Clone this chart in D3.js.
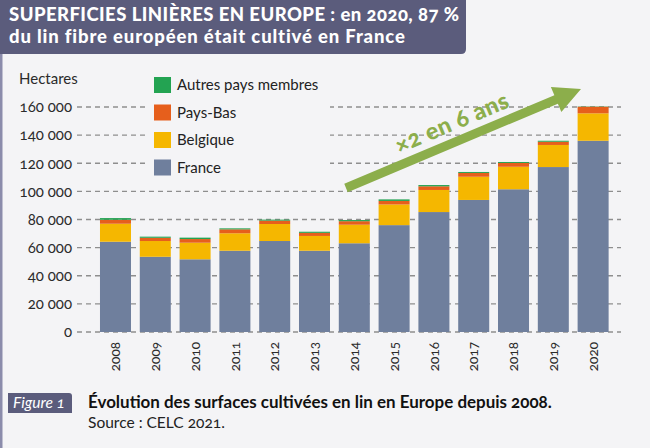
<!DOCTYPE html>
<html><head><meta charset="utf-8">
<script src="https://cdn.jsdelivr.net/npm/d3@7"></script>
<style>
html,body{margin:0;padding:0;background:#f4f4f6;}
svg{display:block;font-family:Lato,"Open Sans",sans-serif;font-variant-numeric:oldstyle-nums;}
</style></head><body>
<svg id="c" width="650" height="448"></svg>
<script>
const years = ["2008","2009","2010","2011","2012","2013","2014","2015","2016","2017","2018","2019","2020"];
const france   = [64200, 53500, 51700, 57800, 64700, 57800, 63100, 76000, 85300, 93900, 101500, 117300, 136000];
const belgique = [12800, 11200, 11800, 12400, 12100, 10500, 13200, 14700, 15700, 16500, 16000, 15700, 19500];
const paysBas  = [2800, 2300, 2600, 2800, 2400, 2200, 2500, 2500, 2600, 2700, 2700, 2300, 4700];
const autres   = [1200, 800, 1000, 700, 700, 800, 800, 1100, 900, 700, 700, 700, 200];
const seriesNames = ["France","Belgique","Pays-Bas","Autres pays membres"];
const yTicks = [0,20000,40000,60000,80000,100000,120000,140000,160000];

const colors = {"France":"#6f7f9d","Belgique":"#f5b700","Pays-Bas":"#e65f1c","Autres pays membres":"#23a352"};
const bg = "#f4f4f6";

const svg = d3.select("#c");
svg.append("rect").attr("width",650).attr("height",448).attr("fill",bg);
svg.append("rect").attr("x",0).attr("y",0).attr("width",2.5).attr("height",448).attr("fill","#8b8cab");

function fit(sel, target){
  const w = sel.node().getComputedTextLength();
  const fs = parseFloat(sel.attr("font-size"));
  sel.attr("font-size", fs*target/w);
}
function spread(sel, target){
  const w = sel.node().getComputedTextLength();
  const n = sel.text().length;
  sel.attr("letter-spacing", (target-w)/(n-1));
}

// Title
svg.append("path").attr("d","M0,0H466V49Q466,54 461,54H0Z").attr("fill","#5b5c7c");
const t1 = svg.append("text").attr("x",9).attr("y",21).attr("font-size",18.5).attr("font-weight",900).attr("fill","#fff")
  .text("SUPERFICIES LINIÈRES EN EUROPE : en 2020, 87 %");
spread(t1,450);
const t2 = svg.append("text").attr("x",9).attr("y",43).attr("font-size",18.5).attr("font-weight",900).attr("fill","#fff")
  .text("du lin fibre européen était cultivé en France");
spread(t2,396);

// Scales
const x = d3.scaleBand().domain(years).range([96,612.6]).paddingInner(0.221).paddingOuter(0.1);
const y = d3.scaleLinear().domain([0,160000]).range([332,107]);
const fmt = d3.formatLocale({thousands:"\u00a0",grouping:[3],decimal:",",currency:["",""]}).format(",");

// gridlines
svg.append("g").selectAll("line").data(yTicks).join("line")
  .attr("x1",77).attr("x2",621).attr("y1",d=>y(d)).attr("y2",d=>y(d))
  .attr("stroke","#8e8e8e").attr("stroke-width",1.3).attr("stroke-dasharray","5,4");

// y axis labels
const ya = svg.append("g").attr("transform","translate(77,0)")
  .call(d3.axisLeft(y).tickValues(yTicks).tickSize(0).tickPadding(5).tickFormat(fmt));
ya.select(".domain").remove();
ya.selectAll("text").attr("font-size",15).attr("fill","#2b2b2b").attr("font-family","Lato, sans-serif");

svg.append("text").attr("x",19).attr("y",84).attr("font-size",15).attr("fill","#2b2b2b").text("Hectares");

// Legend mask
svg.append("rect").attr("x",148).attr("y",70).attr("width",182).attr("height",104).attr("fill",bg);

// stacked bars
const table = years.map((yr,i)=>({year:yr,"France":france[i],"Belgique":belgique[i],"Pays-Bas":paysBas[i],"Autres pays membres":autres[i]}));
const stack = d3.stack().keys(seriesNames)(table);
svg.append("g").selectAll("g").data(stack).join("g").attr("fill",d=>colors[d.key])
  .selectAll("rect").data(d=>d).join("rect")
  .attr("x",d=>x(d.data.year)).attr("width",x.bandwidth())
  .attr("y",d=>y(d[1])).attr("height",d=>y(d[0])-y(d[1]));

// x labels
svg.append("g").selectAll("text").data(years).join("text")
  .attr("transform",d=>`translate(${x(d)+x.bandwidth()/2},342) rotate(-90)`)
  .attr("text-anchor","end").attr("dy","0.35em").attr("font-size",13.5).attr("fill","#2b2b2b").text(d=>d);

// Legend
const legOrder = ["Autres pays membres","Pays-Bas","Belgique","France"];
const lg = svg.append("g").selectAll("g").data(legOrder).join("g")
  .attr("transform",(d,i)=>`translate(154,${77+i*27.5})`);
lg.append("rect").attr("width",17).attr("height",16).attr("fill",d=>colors[d]);
lg.append("text").attr("x",23).attr("y",8).attr("dy","0.35em").attr("font-size",15).attr("fill","#222").text(d=>d);

// Arrow annotation
const ax0=346, ay0=188, ax1=581, ay1=89;
const L = Math.hypot(ax1-ax0, ay1-ay0), ang = Math.atan2(ay1-ay0, ax1-ax0)*180/Math.PI;
const ag = svg.append("g").attr("transform",`translate(${ax0},${ay0}) rotate(${ang})`);
ag.append("path").attr("fill","#8cae4b")
  .attr("d",`M0,-4.5H${L-27}V-13.5L${L},0L${L-27},13.5V4.5H0Z`);
const at = ag.append("text").attr("x",123).attr("y",-11).attr("text-anchor","middle")
  .attr("font-size",21).attr("font-weight",900).attr("fill","#8cae4b").attr("letter-spacing",0.5).text("×2 en 6 ans");
fit(at,122);

// Footer
svg.append("path").attr("d","M8,393H69Q72,393 72,396V413H8Z").attr("fill","#5b5c7c");
const f1 = svg.append("text").attr("x",13).attr("y",408).attr("font-size",14).attr("font-style","italic").attr("fill","#fff").text("Figure 1");
fit(f1,52);
const c1 = svg.append("text").attr("x",88).attr("y",408).attr("font-size",16).attr("font-weight",700).attr("fill","#111")
  .text("Évolution des surfaces cultivées en lin en Europe depuis 2008.");
fit(c1,464);
const s1 = svg.append("text").attr("x",88).attr("y",428).attr("font-size",14.5).attr("fill","#222").text("Source : CELC 2021.");
fit(s1,137);
</script></body></html>
